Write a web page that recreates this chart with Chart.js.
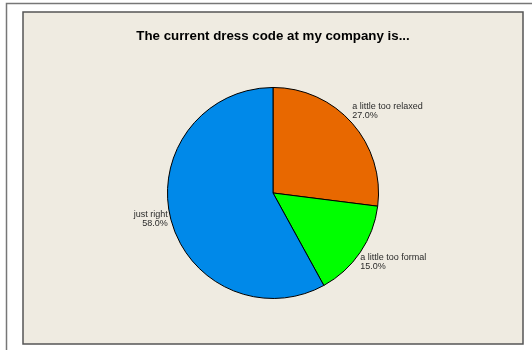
<!DOCTYPE html>
<html>
<head>
  <meta charset="utf-8">
  <title>Dress code pie</title>
  <script src="https://cdn.jsdelivr.net/npm/chart.js"></script>
  <style>
    body { margin: 0; background: #ffffff; }
    #wrap { width: 532px; height: 350px; }
  </style>
</head>
<body>
  <div id="wrap"><canvas id="chartDress" width="532" height="350"></canvas></div>

  <script>
    // survey answers, clockwise from 12 o'clock
    const answers = ['a little too relaxed', 'a little too formal', 'just right'];
    const percents = [27.0, 15.0, 58.0];
    const sliceColors = ['#E86800', '#00FF00', '#0089E9'];
    const chartTitle = 'The current dress code at my company is...';

    // white page, grey outer frame and beige panel behind the pie
    const framePlugin = {
      id: 'frame',
      beforeDraw(chart) {
        const ctx = chart.ctx;
        ctx.save();
        ctx.fillStyle = '#ffffff';
        ctx.fillRect(0, 0, chart.width, chart.height);
        ctx.strokeStyle = '#777777';
        ctx.lineWidth = 1.5;
        ctx.strokeRect(6.5, 3.5, chart.width + 10, chart.height + 10);
        ctx.fillStyle = '#EFEBE1';
        ctx.fillRect(23, 12, 500, 332);
        ctx.strokeStyle = '#555555';
        ctx.lineWidth = 1.5;
        ctx.strokeRect(23, 12, 500, 332);
        ctx.restore();
      }
    };

    // category name + percentage next to each slice
    const sliceLabels = {
      id: 'sliceLabels',
      afterDatasetsDraw(chart) {
        const ctx = chart.ctx;
        const meta = chart.getDatasetMeta(0);
        ctx.save();
        ctx.font = '9px "Liberation Sans", Arial, sans-serif';
        ctx.fillStyle = '#2a2a2a';
        meta.data.forEach((arc, i) => {
          const p = arc.getProps(['x', 'y', 'startAngle', 'endAngle', 'outerRadius'], true);
          const mid = (p.startAngle + p.endAngle) / 2;
          const ax = p.x + Math.cos(mid) * p.outerRadius;
          const ay = p.y + Math.sin(mid) * p.outerRadius;
          const right = Math.cos(mid) >= 0;
          const up = -Math.sin(mid); // >0 above center
          const lines = [answers[i], percents[i].toFixed(1) + '%'];
          const lh = 9;
          let top;
          if (up > 0.3) top = ay - lh * 2 - 3;
          else if (up < -0.4) top = ay + 1;
          else top = ay - lh;
          ctx.textAlign = right ? 'left' : 'right';
          ctx.textBaseline = 'top';
          const x = right ? ax : ax - 3;
          lines.forEach((t, k) => ctx.fillText(t, x, top + k * lh));
        });
        ctx.restore();
      }
    };

    const ctxPie = document.getElementById('chartDress').getContext('2d');
    const chartPie = new Chart(ctxPie, {
      type: 'pie',
      data: {
        labels: answers,
        datasets: [{
          data: percents,
          backgroundColor: sliceColors,
          borderColor: '#000000',
          borderWidth: 1
        }]
      },
      options: {
        responsive: false,
        animation: false,
        layout: { padding: { top: 0, bottom: 51, left: 14, right: 0 } },
        plugins: {
          legend: { display: false },
          tooltip: { enabled: false },
          title: {
            display: true,
            text: chartTitle,
            color: '#000000',
            font: { family: '"Liberation Sans", Arial, sans-serif', size: 13.3, weight: 'bold', lineHeight: 1.2 },
            padding: { top: 28, bottom: 43 }
          }
        }
      },
      plugins: [framePlugin, sliceLabels]
    });
  </script>
</body>
</html>
